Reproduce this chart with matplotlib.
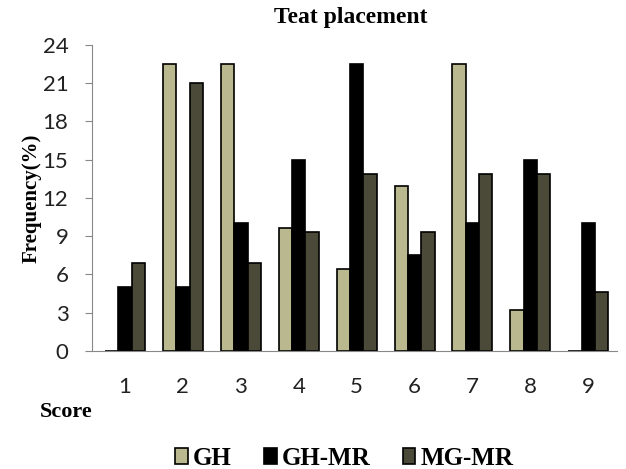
import matplotlib as mpl
mpl.use("Agg")
import matplotlib.pyplot as plt
import numpy as np

scores = ["1", "2", "3", "4", "5", "6", "7", "8", "9"]
gh = [0, 22.5, 22.5, 9.6, 6.4, 12.9, 22.5, 3.2, 0]
gh_mr = [5, 5, 10, 15, 22.5, 7.5, 10, 15, 10]
mg_mr = [6.9, 21, 6.9, 9.3, 13.9, 9.3, 13.9, 13.9, 4.6]
series = ["GH", "GH-MR", "MG-MR"]
colors = ["#b9b88e", "#000000", "#4b4a38"]

serif = ["Liberation Serif", "DejaVu Serif"]

fig = plt.figure(figsize=(6.26, 4.69), dpi=100)
ax = fig.add_axes([0.147, 0.252, 0.839, 0.652])

x = np.arange(1, len(scores) + 1)
w = 0.23
for i, (vals, c, lab) in enumerate(zip([gh, gh_mr, mg_mr], colors, series)):
    ax.bar(x + (i - 1) * w, vals, width=w, color=c, edgecolor="black",
           linewidth=1.2, label=lab)

ax.set_xlim(0.43, 9.5)
ax.set_ylim(0, 24)
ax.set_yticks(range(0, 25, 3))
ax.set_xticks(x)
ax.set_xticklabels(scores)
ax.spines["top"].set_visible(False)
ax.spines["right"].set_visible(False)
ax.spines["left"].set_color("#888888")
ax.spines["bottom"].set_color("#888888")
ax.tick_params(axis="y", direction="out", length=5, color="#888888",
               labelsize=16, pad=12)
ax.tick_params(axis="x", length=0, labelsize=16, pad=19)
for t in ax.get_xticklabels() + ax.get_yticklabels():
    t.set_family(["Lato", "DejaVu Sans"])
    t.set_color("#222222")

ax.set_ylabel("Frequency(%)", family=serif, fontweight="bold", fontsize=15,
              labelpad=1)
fig.text(0.064, 0.121, "Score", family=serif, fontweight="bold", fontsize=16,
         va="center")
fig.text(0.561, 0.962, "Teat placement", family=serif, fontweight="bold",
         fontsize=17, ha="center", va="center")

fig.legend(loc="center", bbox_to_anchor=(0.55, 0.022), ncol=3, frameon=False,
           prop={"family": serif, "weight": "bold", "size": 18},
           handlelength=0.5, handleheight=0.6, handletextpad=0.2,
           columnspacing=1.3)

fig.savefig("out.png", dpi=100)
